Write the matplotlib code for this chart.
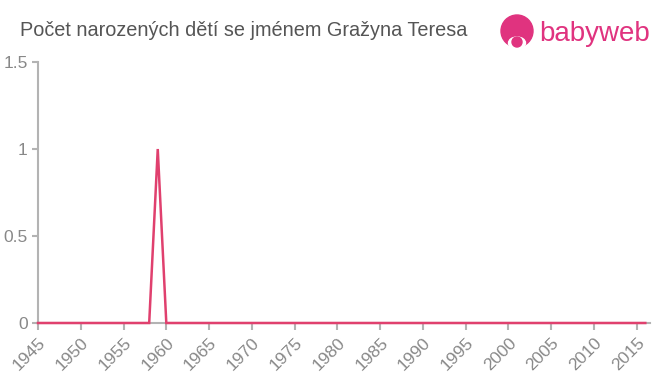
import matplotlib
matplotlib.use("Agg")
import matplotlib.pyplot as plt
from matplotlib.patches import Circle, Ellipse

years = list(range(1945, 2017))
counts = [0] * len(years)
counts[years.index(1959)] = 1

x_ticks = list(range(1945, 2016, 5))
y_ticks = [0, 0.5, 1, 1.5]
y_labels = ["0", "0.5", "1", "1.5"]

title = "Počet narozených dětí se jménem Gražyna Teresa"

plt.rcParams['font.family'] = ['Liberation Sans', 'DejaVu Sans']

fig = plt.figure(figsize=(6.6, 3.75), dpi=100)
W, H = 660, 375
left, right, top, bottom = 38, 650, 62, 323
ax = fig.add_axes([left / W, 1 - bottom / H, (right - left) / W, (bottom - top) / H])

ax.plot(years, counts, color="#e0406e", lw=1.8, solid_joinstyle="miter", clip_on=False, zorder=3)
ax.set_xlim(1945, 2016.55)
ax.set_ylim(0, 1.5)
ax.set_xticks(x_ticks)
ax.set_xticklabels([str(y) for y in x_ticks], rotation=45, ha="right", rotation_mode="anchor")
ax.set_yticks(y_ticks)
ax.set_yticklabels(y_labels)

for s in ["top", "right"]:
    ax.spines[s].set_visible(False)
for s in ["left", "bottom"]:
    ax.spines[s].set_color("#b3b3b3")
    ax.spines[s].set_linewidth(1.5)
ax.tick_params(axis="both", colors="#b3b3b3", length=5, width=1.5, labelsize=12.5, labelcolor="#888888")
ax.tick_params(axis="y", length=4)

fig.text(20 / W, 1 - 30 / H, title, fontsize=14.3, color="#555555", va="center", ha="left")

# logo
lc = "#e0337f"
lax = fig.add_axes([0, 0, 1, 1], facecolor="none")
lax.set_xlim(0, W)
lax.set_ylim(H, 0)
lax.axis("off")
lax.add_patch(Circle((517, 31), 16, color=lc))
lax.add_patch(Ellipse((517, 43), 17, 12, color="white"))
lax.add_patch(Circle((517, 42), 5, color=lc))
lax.text(539, 34, "babyweb", fontsize=20, color=lc, va="center", ha="left")

fig.savefig("out.png", dpi=100)
